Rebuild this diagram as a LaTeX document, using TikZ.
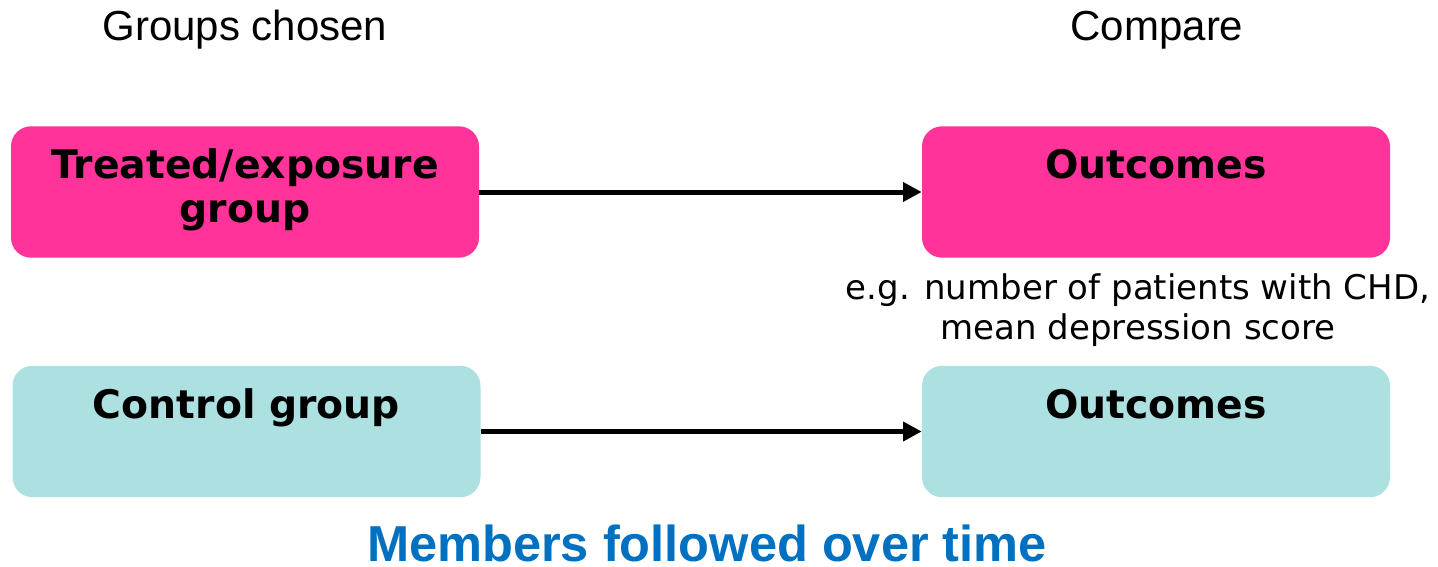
\documentclass[tikz,border=0pt]{standalone}
\usepackage{fontspec}
\setmainfont{Liberation Sans}
\newfontfamily\boxfont{DejaVu Sans}
\usetikzlibrary{arrows.meta}
\definecolor{treatpink}{HTML}{FF3399}
\definecolor{controlcyan}{HTML}{ADE1E1}
\definecolor{followblue}{HTML}{0070C0}
\begin{document}
\begin{tikzpicture}[x=0.75pt,y=-0.75pt,
  groupbox/.style={rounded corners=15pt,draw=none,minimum width=351pt,minimum height=98.5pt,inner sep=0pt},
  boxtext/.style={anchor=base,align=center,font=\boxfont\bfseries\fontsize{29.5}{33}\selectfont},
  headtext/.style={anchor=base,font=\fontsize{31.5}{36}\selectfont},
  notetext/.style={anchor=base,align=center,font=\boxfont\fontsize{25.5}{29.5}\selectfont},
  flow/.style={line width=3.75pt,-{Triangle[length=14pt,width=14pt]}}]
\useasboundingbox (0,0) rectangle (1438,567);
% column headings
\node[headtext] (hgroups) at (245,41) {Groups chosen};
\node[headtext] (hcompare) at (1157,41) {Compare};
% boxes
\node[groupbox,fill=treatpink] (treated) at (245,192) {};
\node[groupbox,fill=treatpink] (outA) at (1156,192) {};
\node[groupbox,fill=controlcyan] (control) at (246.5,431.5) {};
\node[groupbox,fill=controlcyan] (outB) at (1156,431.5) {};
% box labels (base anchor sits on the last line)
\node[boxtext] (ttreated) at (245,222) {Treated/exposure\\group};
\node[boxtext] (toutA) at (1156,178) {Outcomes};
\node[boxtext] (tcontrol) at (246.5,418) {Control group};
\node[boxtext] (toutB) at (1156,418) {Outcomes};
% example note
\node[notetext] (note) at (1138,339) {e.g. number of patients with CHD,\\mean depression score};
% arrows
\draw[flow] (treated.east) -- (outA.west);
\draw[flow] (control.east) -- (outB.west);
% footer
\node[anchor=base,inner sep=0pt,text=followblue,font=\bfseries\fontsize{37.9}{44}\selectfont] (follow) at (707,561) {Members followed over time};
\end{tikzpicture}
\end{document}
